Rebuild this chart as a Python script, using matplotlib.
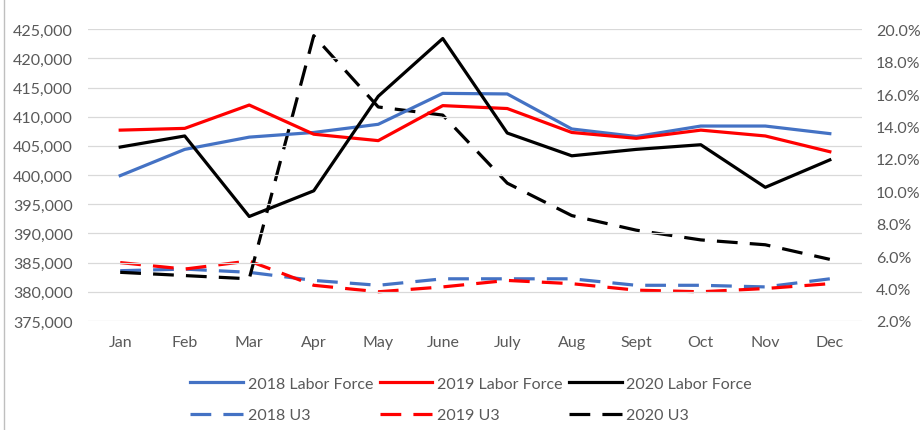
import matplotlib.pyplot as plt
import matplotlib.ticker as ticker
from matplotlib.lines import Line2D

plt.rcParams['font.family'] = ['Lato', 'DejaVu Sans']

months = ['Jan', 'Feb', 'Mar', 'Apr', 'May', 'June', 'July', 'Aug', 'Sept', 'Oct', 'Nov', 'Dec']

# labor force (left axis)
lf_2018 = [399900, 404400, 406500, 407300, 408700, 414000, 413900, 407900, 406600, 408400, 408400, 407100]
lf_2019 = [407700, 408000, 412000, 407000, 405900, 411900, 411400, 407300, 406300, 407700, 406700, 404000]
lf_2020 = [404800, 406700, 392900, 397300, 413500, 423400, 407200, 403300, 404400, 405200, 397900, 402600]

# U3 unemployment rate, percent (right axis)
u3_2018 = [5.1, 5.2, 5.0, 4.5, 4.2, 4.6, 4.6, 4.6, 4.2, 4.2, 4.1, 4.6]
u3_2019 = [5.6, 5.2, 5.7, 4.2, 3.8, 4.1, 4.5, 4.3, 3.9, 3.8, 4.0, 4.3]
u3_2020 = [5.0, 4.8, 4.6, 19.6, 15.2, 14.7, 10.5, 8.5, 7.6, 7.0, 6.7, 5.8]

blue = '#4472C4'
red = '#FF0000'
black = '#000000'
grey = '#595959'
dash = (6.5, 3.8)

fig = plt.figure(figsize=(9.22, 4.31), dpi=100)
ax = fig.add_axes([0.0954, 0.253, 0.8396, 0.677])
ax2 = ax.twinx()

x = list(range(len(months)))
lw = 2.3

ax2.plot(x, u3_2018, color=blue, lw=lw, dashes=dash)
ax2.plot(x, u3_2019, color=red, lw=lw, dashes=dash)
ax2.plot(x, u3_2020, color=black, lw=lw, dashes=dash)
ax.plot(x, lf_2018, color=blue, lw=lw)
ax.plot(x, lf_2019, color=red, lw=lw)
ax.plot(x, lf_2020, color=black, lw=lw)

ax.set_zorder(ax2.get_zorder() + 1)
ax.patch.set_visible(False)

ax.set_xlim(-0.5, 11.5)
ax.set_ylim(375000, 425000)
ax2.set_ylim(2, 20)
ax.yaxis.set_major_locator(ticker.MultipleLocator(5000))
ax.yaxis.set_major_formatter(ticker.FuncFormatter(lambda v, p: f'{v:,.0f}'))
ax2.yaxis.set_major_locator(ticker.MultipleLocator(2))
ax2.yaxis.set_major_formatter(ticker.FuncFormatter(lambda v, p: f'{v:.1f}%'))
ax.set_xticks(x)
ax.set_xticklabels(months)

ax.grid(axis='y', color='#D9D9D9', lw=0.9)
ax.set_axisbelow(True)
for a in (ax, ax2):
    for s in a.spines.values():
        s.set_visible(False)
    a.tick_params(length=0, labelsize=11.5, labelcolor=grey)
ax.tick_params(axis='y', pad=11)
ax.tick_params(axis='x', pad=10)
ax2.tick_params(axis='y', pad=10)

handles = [
    Line2D([], [], color=blue, lw=lw),
    Line2D([], [], color=blue, lw=lw, dashes=dash),
    Line2D([], [], color=red, lw=lw),
    Line2D([], [], color=red, lw=lw, dashes=dash),
    Line2D([], [], color=black, lw=lw),
    Line2D([], [], color=black, lw=lw, dashes=dash),
]
labels = ['2018 Labor Force', '2018 U3', '2019 Labor Force', '2019 U3',
          '2020 Labor Force', '2020 U3']
leg = fig.legend(handles, labels, ncol=3, loc='center', bbox_to_anchor=(0.511, 0.071),
                 frameon=False, fontsize=11.5, handlelength=3.3, handletextpad=0.3,
                 columnspacing=0.4, labelspacing=1.1, labelcolor=grey)

# chart frame edge on the left
fig.add_artist(Line2D([0.004, 0.004], [0, 1], color='#BFBFBF', lw=1, transform=fig.transFigure))

fig.savefig('out.png', dpi=100)
